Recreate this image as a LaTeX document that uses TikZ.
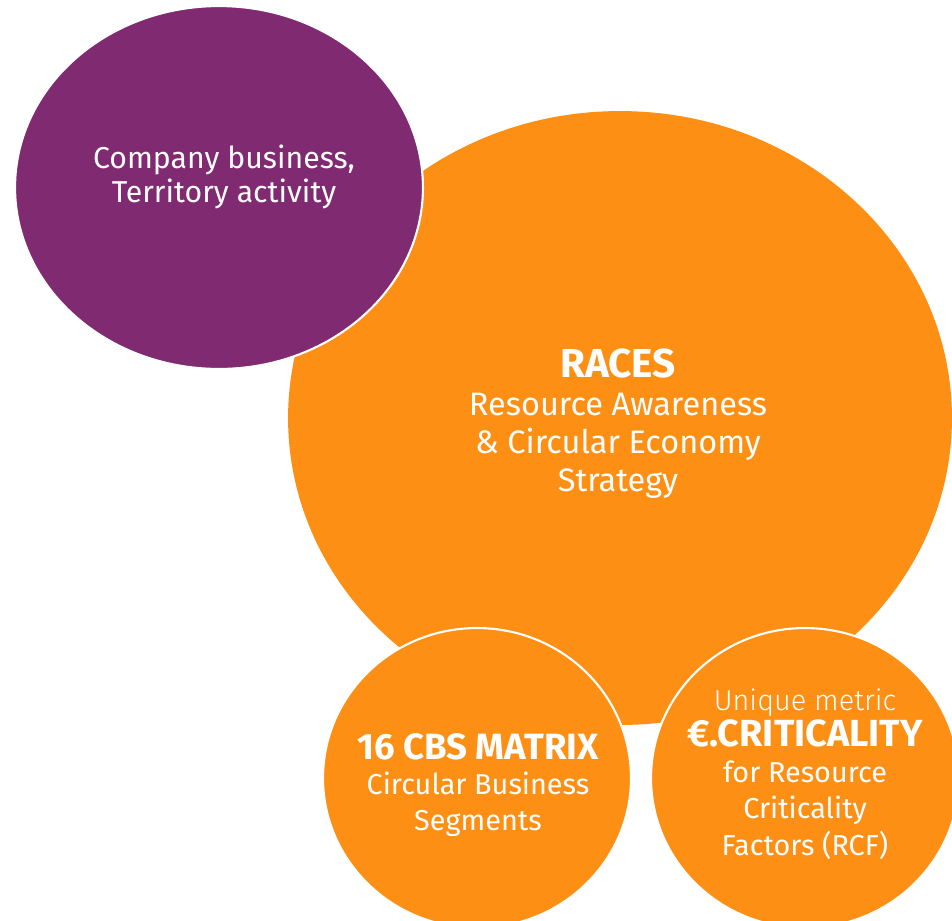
\documentclass[tikz,border=0pt]{standalone}
\usepackage{fontspec}
\setmainfont{Fira Sans}
\newfontfamily\lightfont{Fira Sans}[UprightFont=* Light]
\usetikzlibrary{shapes.geometric}
\definecolor{racesorange}{HTML}{FD8F14}
\definecolor{racespurple}{HTML}{802A72}

\begin{document}
\begin{tikzpicture}[x=0.02cm, y=-0.02cm,
  bubble/.style={ellipse, inner sep=0pt, draw=white, line width=1.2pt},
  txt/.style={text=white, align=center, inner sep=0pt, font=\fontsize{16.4}{20.2}\selectfont}]
  \useasboundingbox (0,0) rectangle (952,920);
  \clip (0,0) rectangle (952,920);

  % Bubbles
  \node[ellipse, inner sep=0pt, fill=racesorange, minimum width=13.28cm, minimum height=12.28cm] (races) at (620,418) {};
  \node[bubble, fill=racespurple, minimum width=8.16cm, minimum height=7.26cm] (company) at (219,187.5) {};
  \foreach \n/\x in {cbs/477, crit/805}{
    \node[bubble, fill=racesorange, minimum width=6.16cm, minimum height=6cm] (\n) at (\x,778) {};
  }

  % Texts
  \node[txt, font=\fontsize{17.2}{19.4}\selectfont] (companytxt) at (224,177) {Company business,\\Territory activity};
  \node[txt, font=\fontsize{18.5}{21.6}\selectfont] (racestxt) at (618,424)
    {{\fontsize{23}{24}\selectfont\bfseries RACES}\\Resource Awareness\\\& Circular Economy\\Strategy};
  \node[txt] (cbstxt) at (478,785)
    {{\fontsize{20.8}{22}\selectfont\bfseries 16 CBS MATRIX}\\Circular Business\\Segments};
  \node[txt, font=\fontsize{16.4}{20.6}\selectfont] (crittxt) at (805,774)
    {{\lightfont Unique metric}\\{\fontsize{21.5}{22}\selectfont\bfseries €.CRITICALITY}\\for Resource\\Criticality\\Factors (RCF)};
\end{tikzpicture}
\end{document}
